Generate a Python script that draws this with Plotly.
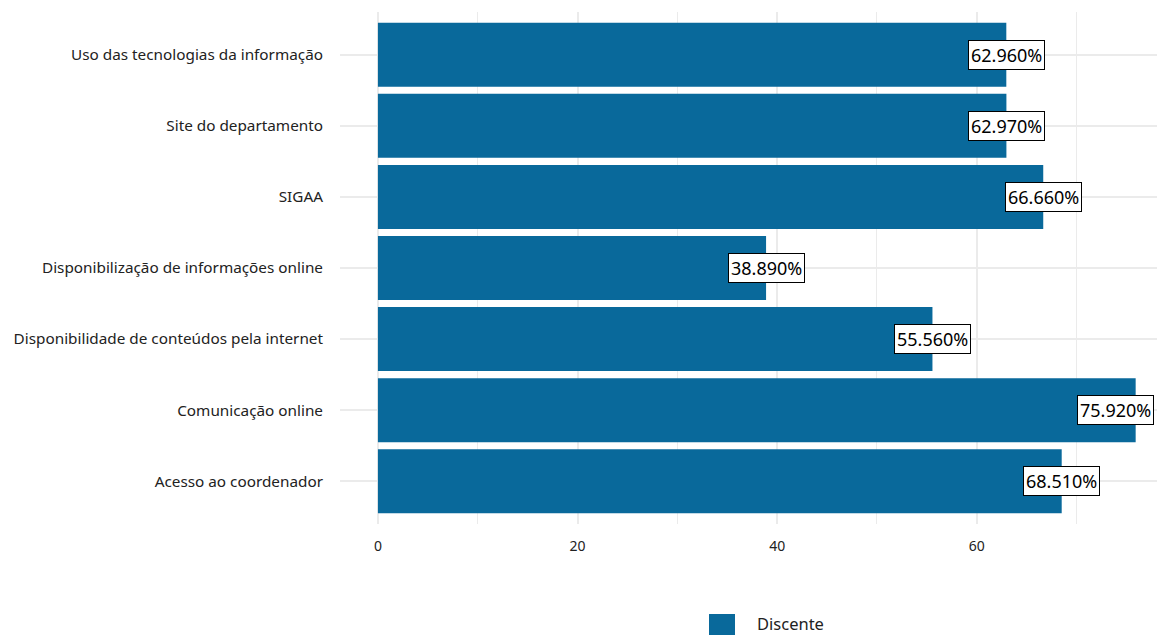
import plotly.graph_objects as go

categories = ["Acesso ao coordenador", "Comunicação online",
              "Disponibilidade de conteúdos pela internet",
              "Disponibilização de informações online", "SIGAA",
              "Site do departamento", "Uso das tecnologias da informação"]
values = [68.51, 75.92, 55.56, 38.89, 66.66, 62.97, 62.96]
series_name = "Discente"
x_ticks = [0, 20, 40, 60]

FONT = "Noto Sans"
BAR = "#09699B"

X_RANGE = [-3.8, 78.86]
PLOT_W = 1157 - 332          # plot area width in px
PX_PER_UNIT = PLOT_W / (X_RANGE[1] - X_RANGE[0])
HALF_LABEL_PX = 42           # approx half width of a value label

fig = go.Figure()
fig.add_trace(go.Bar(
    y=categories, x=values, orientation="h", name=series_name,
    marker=dict(color=BAR, line=dict(width=0)), width=0.9,
    showlegend=False, hoverinfo="x+y"))

for c, v in zip(categories, values):
    # keep labels inside the visible page area
    room = (X_RANGE[1] - v) * PX_PER_UNIT - 8
    shift = min(0, room - HALF_LABEL_PX)
    fig.add_annotation(x=v, y=c, xref="x", yref="y", text=f"{v:.3f}%",
                       showarrow=False, bgcolor="white", bordercolor="black",
                       borderwidth=1, borderpad=2, xshift=shift,
                       font=dict(family=FONT, size=18, color="black"))

# legend drawn below the panel (key square + label)
fig.add_shape(type="rect", xref="paper", yref="paper",
              x0=0.4473, x1=0.4788, y0=-0.2227, y1=-0.1758,
              fillcolor=BAR, line=dict(width=0))
fig.add_annotation(x=0.503, y=-0.1953, xref="paper", yref="paper",
                   text=series_name, showarrow=False, xanchor="left", yanchor="middle",
                   font=dict(family=FONT, size=16.5, color="#222"))

fig.update_layout(
    width=1157, height=627,
    margin=dict(l=332, r=0, t=4, b=111),
    paper_bgcolor="white", plot_bgcolor="white",
    font=dict(family=FONT, color="#222222"),
    bargap=0.1,
    showlegend=False,
    xaxis=dict(range=X_RANGE, tickvals=x_ticks, ticktext=[str(t) for t in x_ticks],
               showgrid=True, gridcolor="#ebebeb", gridwidth=2, zeroline=False,
               minor=dict(tickvals=[10, 30, 50, 70], showgrid=True, gridcolor="#ebebeb", gridwidth=1),
               tickfont=dict(family=FONT, size=14, color="#222"), ticks="", showline=False,
               ticklabelstandoff=12, fixedrange=True, automargin=False),
    yaxis=dict(categoryorder="array", categoryarray=categories, range=[-0.6, 6.6],
               showgrid=True, gridcolor="#ebebeb", gridwidth=2, zeroline=False,
               tickfont=dict(family=FONT, size=15.3, color="#222"), ticks="",
               ticklabelstandoff=16, showline=False, fixedrange=True, automargin=False),
)

fig.write_html("out.html")
